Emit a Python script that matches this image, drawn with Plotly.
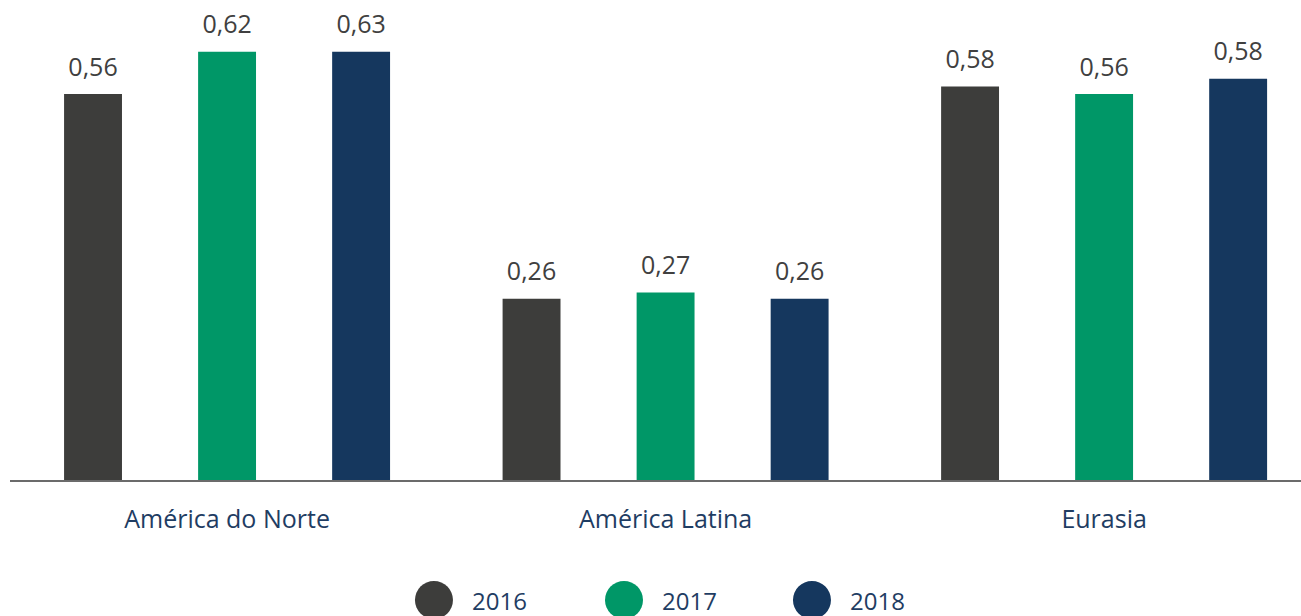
import plotly.graph_objects as go

# data (bar heights; labels as printed)
regions = ['América do Norte', 'América Latina', 'Eurasia']
years = ['2016', '2017', '2018']
values_2016 = [0.558, 0.262, 0.569]
values_2017 = [0.619, 0.271, 0.558]
values_2018 = [0.619, 0.262, 0.580]
labels_2016 = ['0,56', '0,26', '0,58']
labels_2017 = ['0,62', '0,27', '0,56']
labels_2018 = ['0,63', '0,26', '0,58']

series = [values_2016, values_2017, values_2018]
labels = [labels_2016, labels_2017, labels_2018]
colors = ['#3d3d3b', '#009767', '#15375e']
FONT = 'Open Sans'

fig = go.Figure()

for year, vals, txt, color in zip(years, series, labels, colors):
    fig.add_trace(go.Bar(
        x=regions, y=vals, name=year,
        marker=dict(color=color, line=dict(width=0)),
        offsetgroup=year,
        showlegend=False,
        hoverinfo='skip',
    ))
    # value labels, lifted above the bar by an invisible marker
    fig.add_trace(go.Scatter(
        x=regions, y=vals, name=year,
        mode='markers+text',
        marker=dict(size=18, opacity=0),
        offsetgroup=year,
        text=txt,
        textposition='top center',
        textfont=dict(family=FONT, size=25, color='#404040'),
        showlegend=False,
        cliponaxis=False,
        hoverinfo='skip',
    ))

# custom legend with large circles
legend_x = [0.3284, 0.4756, 0.6212]
for year, color, lx in zip(years, colors, legend_x):
    fig.add_shape(
        type='circle', xref='paper', yref='paper',
        xsizemode='pixel', ysizemode='pixel',
        xanchor=lx, yanchor=-0.25,
        x0=-19, x1=19, y0=-19, y1=19,
        fillcolor=color, line=dict(width=0),
    )
    fig.add_annotation(
        x=lx, y=-0.25, xref='paper', yref='paper',
        text=year, showarrow=False,
        xanchor='left', yanchor='middle', xshift=36,
        font=dict(family=FONT, size=24, color='#1f3d63'),
    )

fig.update_layout(
    width=1301, height=616,
    margin=dict(l=10, r=0, t=0, b=136),
    barmode='group',
    scattermode='group',
    bargap=0.083,
    bargroupgap=0.568,
    scattergap=0.083,
    plot_bgcolor='white',
    paper_bgcolor='white',
    showlegend=False,
)

fig.update_xaxes(
    range=[-0.495, 2.449],
    showline=True, linecolor='#6b6b6b', linewidth=2,
    showgrid=False, zeroline=False,
    ticks='', ticklabelstandoff=16,
    tickfont=dict(family=FONT, size=25, color='#1f3d63'),
)
fig.update_yaxes(
    range=[0, 0.694],
    visible=False, showgrid=False, zeroline=False,
)

fig.write_html('out.html', config={'displayModeBar': False},
               post_script="document.body.style.margin='0';")
